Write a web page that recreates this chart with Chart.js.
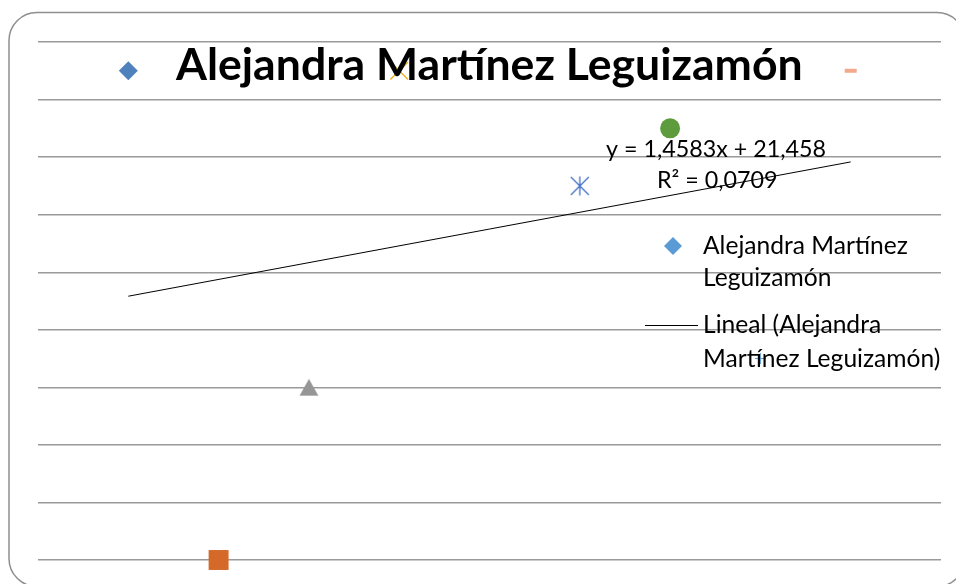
<!DOCTYPE html>
<html>
<head>
<meta charset="utf-8">
<script src="https://cdn.jsdelivr.net/npm/chart.js@4.4.1/dist/chart.umd.min.js"></script>
<style>
  html, body { margin: 0; padding: 0; background: #fff; }
  #wrap { width: 956px; height: 584px; position: relative; overflow: hidden; }
</style>
</head>
<body>
<div id="wrap"><canvas id="chart" width="956" height="584"></canvas></div>
<script>
const chartTitle = 'Alejandra Martínez Leguizamón';
const seriesName = 'Alejandra Martínez Leguizamón';
const trendName = ['Lineal (Alejandra', 'Martínez Leguizamón)'];

// x positions of the points (point 5 has no value)
const xValues = [1, 2, 3, 4, 6, 7, 8, 9];
const yValues = [42.5, 0, 15, 42.5, 32.5, 37.5, 17.5, 42.5];
const yTicks = [0, 5, 10, 15, 20, 25, 30, 35, 40, 45];

const pointColors = ['#4f81bd', '#d4692a', '#969696', '#f0b01c', '#4472c4', '#5e9b3c', '#5b9bd5', '#f4a98c'];

const FONT = 'Lato, "Open Sans", sans-serif';

// asterisk marker: vertical stroke + X
function makeAsterisk(color) {
  const c = document.createElement('canvas');
  c.width = 22; c.height = 22;
  const g = c.getContext('2d');
  g.strokeStyle = color;
  g.lineWidth = 1.3;
  g.beginPath();
  g.moveTo(11, 1.5); g.lineTo(11, 20.5);
  g.moveTo(2, 2); g.lineTo(20, 20);
  g.moveTo(20, 2); g.lineTo(2, 20);
  g.stroke();
  return c;
}

// triangle centred on its box, like the office marker
function makeTriangle(color) {
  const c = document.createElement('canvas');
  c.width = 20; c.height = 18;
  const g = c.getContext('2d');
  g.fillStyle = color;
  g.beginPath();
  g.moveTo(10, 0.5); g.lineTo(19.5, 17.5); g.lineTo(0.5, 17.5);
  g.closePath();
  g.fill();
  return c;
}

const pointStyles = ['rectRot', 'rect', makeTriangle(pointColors[2]), 'crossRot', makeAsterisk(pointColors[4]), 'circle', 'cross', 'line'];
const pointSizes = [9.5, 14.1, 10, 12.5, 11, 10, 5.5, 6];
const pointBorders = [0, 0, 0, 1.4, 1, 0, 1, 4];

// least squares line for the trendline
function linearFit(xs, ys) {
  const n = xs.length;
  const mx = xs.reduce((s, v) => s + v, 0) / n;
  const my = ys.reduce((s, v) => s + v, 0) / n;
  let sxy = 0, sxx = 0, syy = 0;
  for (let i = 0; i < n; i++) {
    sxy += (xs[i] - mx) * (ys[i] - my);
    sxx += (xs[i] - mx) * (xs[i] - mx);
    syy += (ys[i] - my) * (ys[i] - my);
  }
  const b = sxy / sxx;
  return { b: b, a: my - b * mx, r2: (sxy * sxy) / (sxx * syy) };
}

const fit = linearFit(xValues, yValues);
const xMin = Math.min(...xValues), xMax = Math.max(...xValues);
const trendData = [
  { x: xMin, y: fit.a + fit.b * xMin },
  { x: xMax, y: fit.a + fit.b * xMax }
];

const eqText = 'y = ' + fit.b.toPrecision(5).replace('.', ',') + 'x + ' + fit.a.toPrecision(5).replace('.', ',');
const r2Text = 'R² = ' + fit.r2.toFixed(4).replace('.', ',');

function fitFont(ctx, text, weight, width) {
  ctx.font = weight + ' 40px ' + FONT;
  const w = ctx.measureText(text).width;
  return 40 * width / w;
}

const framePlugin = {
  id: 'frame',
  beforeDraw(chart) {
    const ctx = chart.ctx;
    ctx.save();
    ctx.strokeStyle = '#8f8f8f';
    ctx.lineWidth = 1.5;
    ctx.beginPath();
    ctx.roundRect(9, 12.5, 956, 574, 28);
    ctx.stroke();
    ctx.restore();
  }
};

const textPlugin = {
  id: 'texts',
  afterDraw(chart) {
    const ctx = chart.ctx;
    ctx.save();
    ctx.fillStyle = '#000';
    ctx.textBaseline = 'alphabetic';

    // title
    let size = fitFont(ctx, chartTitle, 'bold', 627);
    ctx.font = 'bold ' + size + 'px ' + FONT;
    ctx.textAlign = 'left';
    ctx.fillText(chartTitle, 176, 80);

    // trendline label
    size = fitFont(ctx, eqText, 'normal', 220);
    ctx.font = size + 'px ' + FONT;
    ctx.fillText(eqText, 606, 157);
    ctx.fillText(r2Text, 657, 188);

    // legend
    size = fitFont(ctx, 'Alejandra Martínez', 'normal', 205);
    ctx.font = size + 'px ' + FONT;
    ctx.fillText('Alejandra Martínez', 703, 254);
    ctx.fillText('Leguizamón', 703, 286);
    ctx.fillText(trendName[0], 703, 333);
    ctx.fillText(trendName[1], 703, 367);

    ctx.fillStyle = '#5b9bd5';
    ctx.beginPath();
    ctx.moveTo(664, 246); ctx.lineTo(673, 237); ctx.lineTo(682, 246); ctx.lineTo(673, 255);
    ctx.closePath();
    ctx.fill();

    ctx.strokeStyle = '#000';
    ctx.lineWidth = 1;
    ctx.beginPath();
    ctx.moveTo(645, 325.5); ctx.lineTo(698, 325.5);
    ctx.stroke();
    ctx.restore();
  }
};

new Chart(document.getElementById('chart'), {
  type: 'scatter',
  data: {
    datasets: [
      {
        label: seriesName,
        data: xValues.map((x, i) => ({ x: x, y: yValues[i] })),
        pointStyle: pointStyles,
        pointRadius: pointSizes,
        pointBorderWidth: pointBorders,
        backgroundColor: pointColors,
        borderColor: pointColors,
        clip: false,
        order: 2
      },
      {
        type: 'line',
        label: 'Lineal',
        data: trendData,
        borderColor: '#000',
        borderWidth: 1,
        pointRadius: 0,
        fill: false,
        order: 1
      }
    ]
  },
  options: {
    responsive: false,
    animation: false,
    events: [],
    layout: { padding: { left: 38, right: 15, top: 42, bottom: 24 } },
    scales: {
      x: {
        type: 'linear',
        min: 0,
        max: 10,
        display: false
      },
      y: {
        min: 0,
        max: 45,
        afterBuildTicks: (axis) => { axis.ticks = yTicks.map(v => ({ value: v })); },
        ticks: { display: false },
        border: { display: false },
        grid: { color: '#9a9a9a', lineWidth: 1.4, drawTicks: false }
      }
    },
    plugins: {
      legend: { display: false },
      title: { display: false },
      tooltip: { enabled: false }
    }
  },
  plugins: [framePlugin, textPlugin]
});
</script>
</body>
</html>
